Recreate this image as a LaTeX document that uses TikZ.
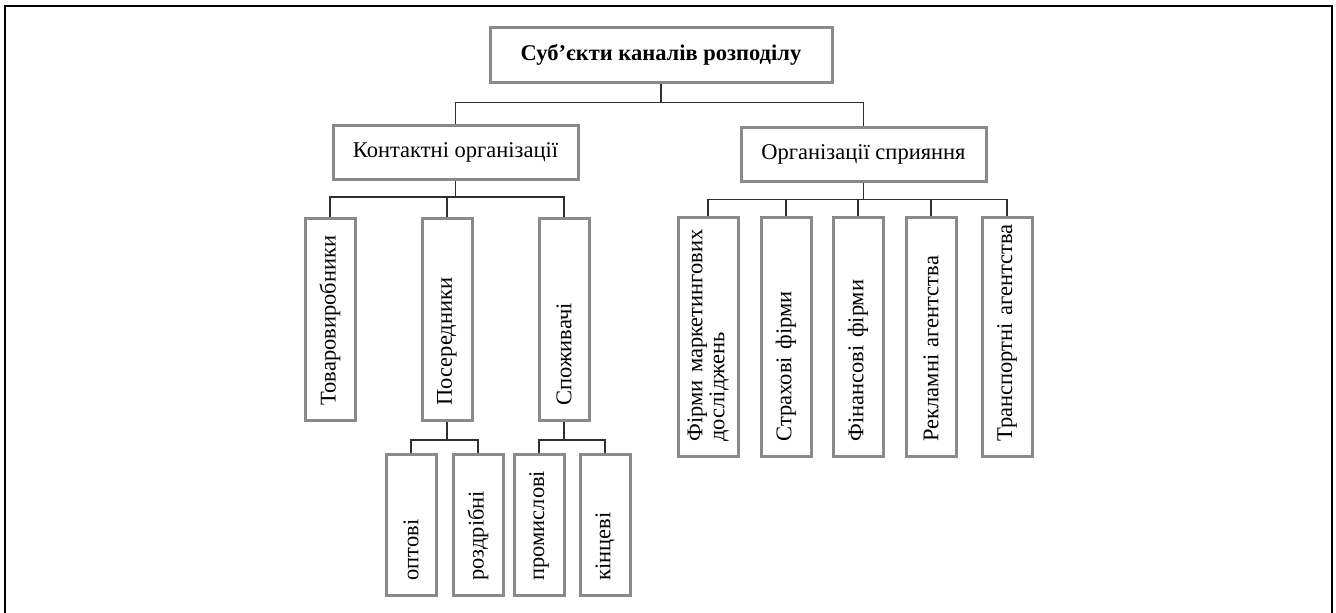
\documentclass[tikz,border=0pt]{standalone}
\usepackage{fontspec}
\setmainfont{Liberation Serif}
\definecolor{boxgray}{HTML}{8A8A8A}
\definecolor{linkgray}{HTML}{2E2E2E}
\tikzset{
  hbox/.style={draw=boxgray, line width=3pt, minimum width=245pt, minimum height=54pt, inner sep=0pt, font=\fontsize{22.5}{24}\selectfont},
  vbox/.style={draw=boxgray, line width=3pt, rotate=90, anchor=east, align=left, inner xsep=15pt, inner ysep=0pt, minimum height=50pt, text width=#1, font=\fontsize{22.5}{22}\selectfont},
  link/.style={draw=linkgray, line width=1.7pt},
}
\begin{document}
\begin{tikzpicture}[x=1pt, y=-1pt]
\useasboundingbox (0,0) rectangle (1336,613);
\draw[line width=2.5pt] (5,613) -- (5,6) -- (1332,6) -- (1332,613);

% upper levels
\node[hbox, minimum width=342pt, minimum height=55pt, font=\fontsize{22.5}{24}\selectfont\bfseries] (top) at (661,54.5) {Суб’єкти каналів розподілу};
\node[hbox] (kont) at (455.5,152.5) {Контактні організації};
\node[hbox] (spr) at (863.5,154) {Організації сприяння};

% contact organisations
\node[vbox=172pt] (tovar) at (330,217) {Товаровиробники};
\node[vbox=172pt] (poser) at (447,217) {Посередники};
\node[vbox=172pt] (spozh) at (564,217) {Споживачі};

\node[vbox=111pt] (opt) at (411,453) {оптові};
\node[vbox=111pt] (rozd) at (478,453) {роздрібні};
\node[vbox=111pt] (prom) at (539,453) {промислові};
\node[vbox=111pt] (kinc) at (605,453) {кінцеві};

% supporting organisations
\node[vbox=209pt, minimum height=60pt] (firm) at (708,216) {Фірми~маркетингових\\досліджень};
\node[vbox=209pt] (strakh) at (786,216) {Страхові~фірми};
\node[vbox=209pt] (fin) at (858,216) {Фінансові~фірми};
\node[vbox=209pt] (rekl) at (931,216) {Рекламні~агентства};
\node[vbox=209pt] (trans) at (1007,216) {Транспортні~агентства};

% connectors
\draw[link] (top.south) -- ++(0,19) coordinate (j0);
\draw[link] (j0) -| (kont.north);
\draw[link] (j0) -| (spr.north);

\draw[link] (kont.south) -- ++(0,16) coordinate (j1);
\foreach \n in {tovar,poser,spozh}
{
    \draw[link] (j1) -| (\n.east);
}

\draw[link] (poser.west) -- ++(0,18) coordinate (j2);
\draw[link] (j2) -| (opt.east);
\draw[link] (j2) -| (rozd.east);

\draw[link] (spozh.west) -- ++(0,18) coordinate (j3);
\draw[link] (j3) -| (prom.east);
\draw[link] (j3) -| (kinc.east);

\draw[link] (spr.south) -- ++(0,17) coordinate (j4);
\foreach \n in {firm,strakh,fin,rekl,trans}
{
    \draw[link] (j4) -| (\n.east);
}

\end{tikzpicture}
\end{document}
